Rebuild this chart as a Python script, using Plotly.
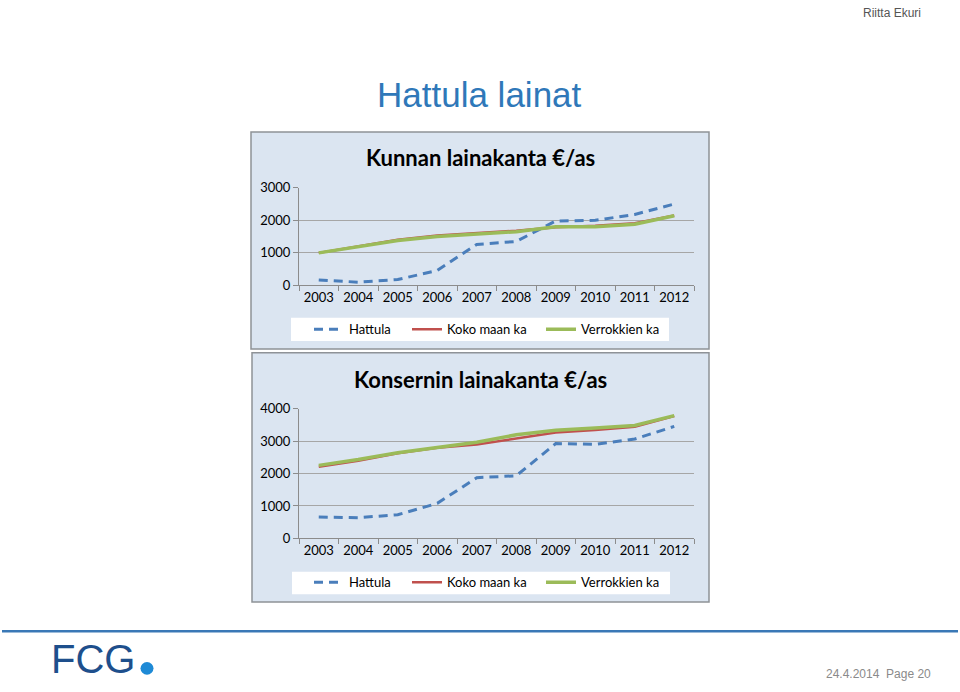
import plotly.graph_objects as go

W, H = 960, 692

years = ["2003", "2004", "2005", "2006", "2007", "2008", "2009", "2010", "2011", "2012"]

# Kunnan lainakanta €/as
kunta_hattula = [170, 100, 180, 460, 1260, 1350, 1980, 2000, 2180, 2500]
kunta_koko = [1000, 1200, 1400, 1530, 1600, 1680, 1790, 1830, 1910, 2150]
kunta_verrokki = [1000, 1180, 1380, 1500, 1570, 1650, 1800, 1800, 1880, 2140]

# Konsernin lainakanta €/as
kons_hattula = [660, 640, 730, 1080, 1870, 1930, 2920, 2900, 3060, 3450]
kons_koko = [2210, 2390, 2620, 2790, 2890, 3070, 3260, 3340, 3440, 3770]
kons_verrokki = [2250, 2430, 2640, 2800, 2960, 3190, 3330, 3400, 3480, 3780]

series_names = ["Hattula", "Koko maan ka", "Verrokkien ka"]
series_colors = ["#4a7ebb", "#c0504d", "#9bbb59"]
series_widths = [3, 2.5, 3.5]
series_dash = ["9px,6px", "solid", "solid"]

panel_titles = ["Kunnan lainakanta €/as", "Konsernin lainakanta €/as"]


def px(x):
    return x / W


def py(y):
    return 1 - y / H


fig = go.Figure()

panels = [
    dict(data=[kunta_hattula, kunta_koko, kunta_verrokki], xa="x", ya="y",
         ydom=[py(284), py(184)], yr=[0, 3000], dt=1000,
         box=(251, 127, 709, 349), title_y=153, leg_y=329, legbox=(291, 317, 669, 341)),
    dict(data=[kons_hattula, kons_koko, kons_verrokki], xa="x2", ya="y2",
         ydom=[py(543), py(410)], yr=[0, 4000], dt=1000,
         box=(252, 353, 709, 608), title_y=380, leg_y=588, legbox=(292, 577, 670, 600)),
]

legend_text_x = [353, 451, 585]

shapes = []
annotations = []
legend_layouts = {}
leg_idx = 0

for pi, p in enumerate(panels):
    x0, y0, x1, y1 = p["box"]
    shapes.append(dict(type="rect", xref="paper", yref="paper", x0=px(x0), x1=px(x1),
                       y0=py(y1), y1=py(y0), fillcolor="#dbe5f1",
                       line=dict(color="#8e9297", width=1.5), layer="below"))
    lx0, ly0, lx1, ly1 = p["legbox"]
    shapes.append(dict(type="rect", xref="paper", yref="paper", x0=px(lx0), x1=px(lx1),
                       y0=py(ly1), y1=py(ly0), fillcolor="white",
                       line=dict(width=0), layer="below"))
    annotations.append(dict(text=f"<b>{panel_titles[pi]}</b>", xref="paper", yref="paper",
                            x=px(480), y=py(p["title_y"]), xanchor="center", yanchor="middle",
                            showarrow=False, font=dict(family="Lato", size=22, color="#000000")))
    for si in range(3):
        leg_idx += 1
        lname = "legend" if leg_idx == 1 else f"legend{leg_idx}"
        fig.add_trace(go.Scatter(
            x=years, y=p["data"][si], name=series_names[si], mode="lines",
            line=dict(color=series_colors[si], width=series_widths[si], dash=series_dash[si]),
            xaxis=p["xa"], yaxis=p["ya"], legend=lname, hoverinfo="skip"))
        legend_layouts[lname] = dict(
            x=px(legend_text_x[si] - 44), y=py(p["leg_y"]), xanchor="left", yanchor="middle",
            bgcolor="rgba(0,0,0,0)", font=dict(family="Lato", size=13, color="#000000"),
            orientation="h", itemclick=False, itemdoubleclick=False)

axis_common = dict(showline=True, linecolor="#8c8c8c", linewidth=1, mirror=False,
                   ticks="outside", tickcolor="#8c8c8c", ticklen=5, tickwidth=1,
                   tickfont=dict(family="Lato", size=13, color="#000000"), fixedrange=True)

layout = dict(
    width=W, height=H, margin=dict(l=0, r=0, t=0, b=0),
    paper_bgcolor="white", plot_bgcolor="white", showlegend=True,
    hovermode=False,
    xaxis=dict(domain=[px(299), px(694)], anchor="y", type="category", tickangle=0,
               range=[-0.5, 9.5], tickson="boundaries", showgrid=False, **axis_common),
    yaxis=dict(domain=panels[0]["ydom"], anchor="x", range=panels[0]["yr"],
               dtick=1000, tick0=0, showgrid=True, gridcolor="#a6a6a6", gridwidth=1,
               zeroline=False, **axis_common),
    xaxis2=dict(domain=[px(299), px(694)], anchor="y2", type="category", tickangle=0,
                range=[-0.5, 9.5], tickson="boundaries", showgrid=False, **axis_common),
    yaxis2=dict(domain=panels[1]["ydom"], anchor="x2", range=panels[1]["yr"],
                dtick=1000, tick0=0, showgrid=True, gridcolor="#a6a6a6", gridwidth=1,
                zeroline=False, **axis_common),
)
layout.update(legend_layouts)

# slide decorations
annotations += [
    dict(text="Hattula lainat", xref="paper", yref="paper", x=px(479), y=py(89),
         xanchor="center", yanchor="middle", showarrow=False,
         font=dict(family="Liberation Sans", size=35, color="#2f78b9")),
    dict(text="Riitta Ekuri", xref="paper", yref="paper", x=px(923), y=py(5),
         xanchor="right", yanchor="middle", showarrow=False,
         font=dict(family="Liberation Sans", size=12, color="#555555")),
    dict(text="24.4.2014&nbsp;&nbsp;Page 20", xref="paper", yref="paper", x=px(933), y=py(682),
         xanchor="right", yanchor="middle", showarrow=False,
         font=dict(family="Liberation Sans", size=12, color="#8a8a8a")),
    dict(text="FCG", xref="paper", yref="paper", x=px(49), y=py(666),
         xanchor="left", yanchor="middle", showarrow=False,
         font=dict(family="Liberation Sans", size=40, color="#1e4f8c")),
]
shapes += [
    dict(type="line", xref="paper", yref="paper", x0=px(2), x1=px(958), y0=py(638), y1=py(638),
         line=dict(color="#3a78b6", width=2.5)),
    dict(type="circle", xref="paper", yref="paper", x0=px(140.5), x1=px(153.5),
         y0=py(682.5), y1=py(669.5), fillcolor="#1e8ad6", line=dict(width=0)),
]
layout["shapes"] = shapes
layout["annotations"] = annotations

fig.update_layout(**layout)
fig.write_html("out.html", config=dict(displayModeBar=False))
